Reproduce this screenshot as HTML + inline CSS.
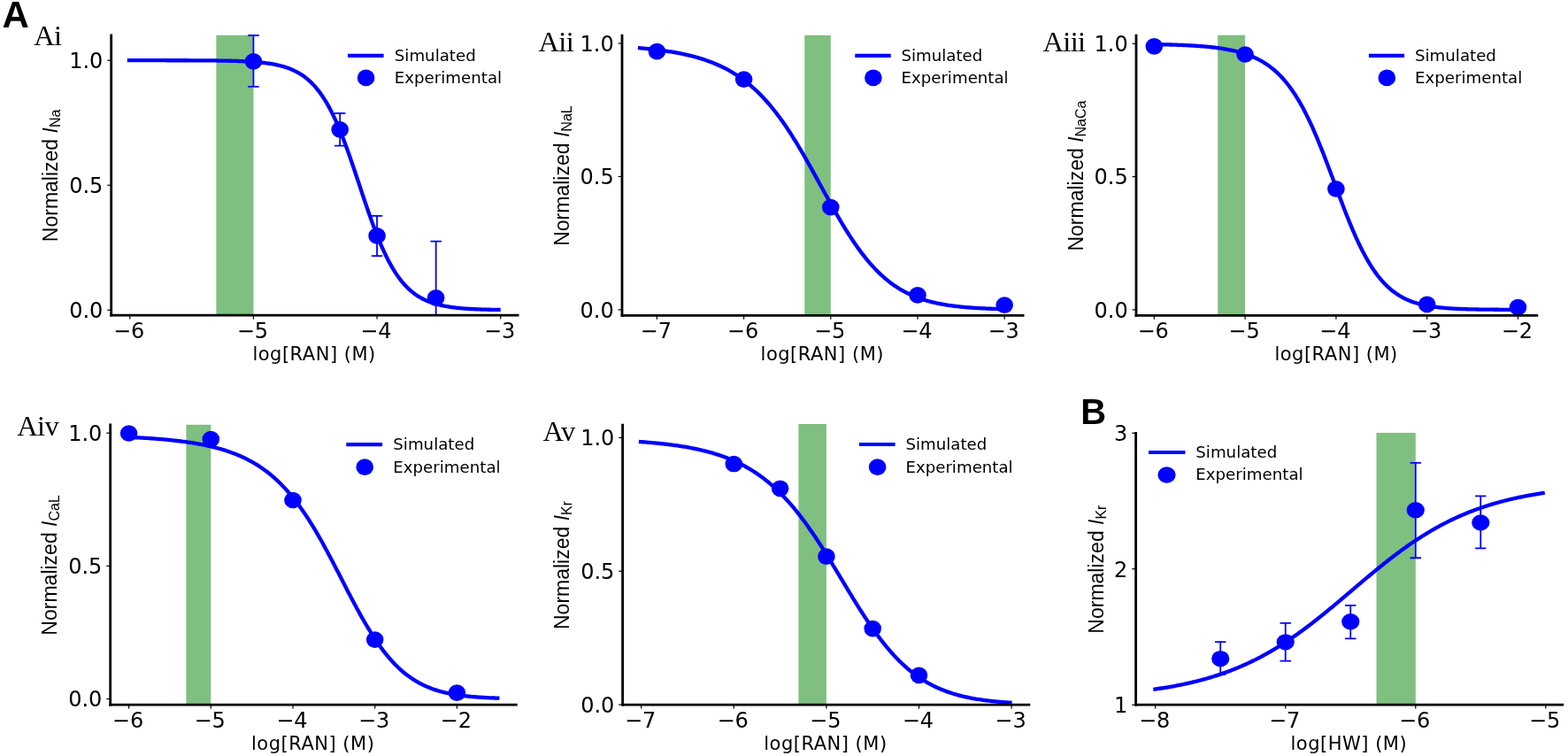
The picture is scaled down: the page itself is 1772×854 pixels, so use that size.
<!DOCTYPE html>
<html><head><meta charset="utf-8"><style>
html,body{margin:0;padding:0;background:#fff;}
svg{display:block;}
.tk{font-family:"DejaVu Sans",sans-serif;font-size:24px;fill:#000;}
.lg{font-family:"DejaVu Sans",sans-serif;font-size:18.2px;fill:#000;}
.xl{font-family:"DejaVu Sans",sans-serif;font-size:21px;fill:#000;letter-spacing:0.5px;}
.yl{font-family:"Liberation Sans",Arial,sans-serif;font-size:23px;fill:#000;}
.pl{font-family:"Liberation Serif","Times New Roman",serif;font-size:32.5px;fill:#000;letter-spacing:-0.6px;}
.big{font-family:"Liberation Sans",Arial,sans-serif;font-weight:bold;font-size:40px;fill:#000;}
</style></head><body>
<svg width="1772" height="854" viewBox="0 0 1772 854">
<rect width="1772" height="854" fill="#fff"/>
<text x="2.4" y="30.7" class="big" style="font-size:42px">A</text>
<text x="1221.2" y="479.1" class="big">B</text>
<clipPath id="clipAi"><rect x="125.70" y="38.60" width="460.80" height="317.60"/></clipPath>
<rect x="244.40" y="39.80" width="42.03" height="316.40" fill="#7fbf7f"/>
<polyline clip-path="url(#clipAi)" points="143.80,68.20 145.20,68.20 146.61,68.20 148.02,68.20 149.42,68.20 150.83,68.21 152.24,68.21 153.64,68.21 155.05,68.21 156.45,68.21 157.86,68.21 159.27,68.21 160.67,68.21 162.08,68.21 163.49,68.21 164.89,68.21 166.30,68.21 167.71,68.21 169.11,68.21 170.52,68.21 171.92,68.21 173.33,68.21 174.74,68.21 176.14,68.22 177.55,68.22 178.96,68.22 180.36,68.22 181.77,68.22 183.17,68.22 184.58,68.22 185.99,68.22 187.39,68.22 188.80,68.23 190.21,68.23 191.61,68.23 193.02,68.23 194.43,68.23 195.83,68.24 197.24,68.24 198.64,68.24 200.05,68.24 201.46,68.24 202.86,68.25 204.27,68.25 205.68,68.25 207.08,68.26 208.49,68.26 209.89,68.26 211.30,68.27 212.71,68.27 214.11,68.28 215.52,68.28 216.93,68.29 218.33,68.29 219.74,68.30 221.14,68.30 222.55,68.31 223.96,68.32 225.36,68.32 226.77,68.33 228.18,68.34 229.58,68.35 230.99,68.36 232.40,68.37 233.80,68.38 235.21,68.39 236.61,68.40 238.02,68.41 239.43,68.43 240.83,68.44 242.24,68.46 243.65,68.47 245.05,68.49 246.46,68.51 247.86,68.53 249.27,68.55 250.68,68.57 252.08,68.59 253.49,68.61 254.90,68.64 256.30,68.67 257.71,68.70 259.12,68.73 260.52,68.76 261.93,68.79 263.33,68.83 264.74,68.87 266.15,68.91 267.55,68.95 268.96,69.00 270.37,69.05 271.77,69.10 273.18,69.16 274.58,69.22 275.99,69.28 277.40,69.35 278.80,69.42 280.21,69.49 281.62,69.57 283.02,69.65 284.43,69.74 285.83,69.84 287.24,69.94 288.65,70.05 290.05,70.16 291.46,70.28 292.87,70.41 294.27,70.54 295.68,70.69 297.09,70.84 298.49,71.00 299.90,71.17 301.30,71.36 302.71,71.55 304.12,71.75 305.52,71.97 306.93,72.20 308.34,72.45 309.74,72.70 311.15,72.98 312.55,73.27 313.96,73.58 315.37,73.90 316.77,74.25 318.18,74.61 319.59,75.00 320.99,75.41 322.40,75.85 323.81,76.31 325.21,76.79 326.62,77.31 328.02,77.85 329.43,78.43 330.84,79.04 332.24,79.68 333.65,80.36 335.06,81.08 336.46,81.84 337.87,82.64 339.27,83.48 340.68,84.37 342.09,85.32 343.49,86.31 344.90,87.35 346.31,88.45 347.71,89.61 349.12,90.83 350.53,92.11 351.93,93.46 353.34,94.88 354.74,96.36 356.15,97.92 357.56,99.56 358.96,101.27 360.37,103.07 361.78,104.94 363.18,106.90 364.59,108.95 365.99,111.09 367.40,113.32 368.81,115.65 370.21,118.07 371.62,120.58 373.03,123.19 374.43,125.90 375.84,128.70 377.24,131.61 378.65,134.61 380.06,137.71 381.46,140.90 382.87,144.19 384.28,147.57 385.68,151.04 387.09,154.60 388.50,158.24 389.90,161.96 391.31,165.76 392.71,169.63 394.12,173.56 395.53,177.55 396.93,181.60 398.34,185.70 399.75,189.83 401.15,194.01 402.56,198.21 403.96,202.42 405.37,206.66 406.78,210.89 408.18,215.12 409.59,219.35 411.00,223.55 412.40,227.73 413.81,231.87 415.22,235.98 416.62,240.04 418.03,244.05 419.43,247.99 420.84,251.88 422.25,255.69 423.65,259.43 425.06,263.09 426.47,266.67 427.87,270.16 429.28,273.56 430.68,276.87 432.09,280.08 433.50,283.20 434.90,286.22 436.31,289.15 437.72,291.98 439.12,294.71 440.53,297.34 441.94,299.88 443.34,302.32 444.75,304.66 446.15,306.91 447.56,309.07 448.97,311.14 450.37,313.12 451.78,315.02 453.19,316.83 454.59,318.56 456.00,320.22 457.40,321.79 458.81,323.30 460.22,324.73 461.62,326.09 463.03,327.39 464.44,328.62 465.84,329.79 467.25,330.91 468.65,331.96 470.06,332.97 471.47,333.92 472.87,334.82 474.28,335.68 475.69,336.49 477.09,337.25 478.50,337.98 479.91,338.67 481.31,339.32 482.72,339.94 484.12,340.52 485.53,341.07 486.94,341.59 488.34,342.09 489.75,342.55 491.16,342.99 492.56,343.41 493.97,343.80 495.37,344.17 496.78,344.52 498.19,344.85 499.59,345.16 501.00,345.46 502.41,345.74 503.81,346.00 505.22,346.24 506.63,346.48 508.03,346.70 509.44,346.91 510.84,347.10 512.25,347.29 513.66,347.46 515.06,347.62 516.47,347.78 517.88,347.92 519.28,348.06 520.69,348.19 522.09,348.31 523.50,348.43 524.91,348.54 526.31,348.64 527.72,348.73 529.13,348.83 530.53,348.91 531.94,348.99 533.34,349.07 534.75,349.14 536.16,349.21 537.56,349.27 538.97,349.33 540.38,349.39 541.78,349.44 543.19,349.49 544.60,349.54 546.00,349.58 547.41,349.62 548.81,349.66 550.22,349.70 551.63,349.73 553.03,349.77 554.44,349.80 555.85,349.83 557.25,349.85 558.66,349.88 560.06,349.91 561.47,349.93 562.88,349.95 564.28,349.97 565.69,349.99" fill="none" stroke="#0000ff" stroke-width="4.3" stroke-linejoin="round" stroke-linecap="butt"/>
<g clip-path="url(#clipAi)" stroke="#0000ff" stroke-width="1.8"><line x1="286.43" y1="97.82" x2="286.43" y2="39.99"/><line x1="280.23" y1="97.82" x2="292.63" y2="97.82"/><line x1="280.23" y1="39.99" x2="292.63" y2="39.99"/></g>
<g clip-path="url(#clipAi)" stroke="#0000ff" stroke-width="1.8"><line x1="384.17" y1="164.68" x2="384.17" y2="128.01"/><line x1="377.97" y1="164.68" x2="390.37" y2="164.68"/><line x1="377.97" y1="128.01" x2="390.37" y2="128.01"/></g>
<g clip-path="url(#clipAi)" stroke="#0000ff" stroke-width="1.8"><line x1="426.06" y1="289.20" x2="426.06" y2="243.95"/><line x1="419.86" y1="289.20" x2="432.26" y2="289.20"/><line x1="419.86" y1="243.95" x2="432.26" y2="243.95"/></g>
<g clip-path="url(#clipAi)" stroke="#0000ff" stroke-width="1.8"><line x1="492.66" y1="406.72" x2="492.66" y2="272.72"/><line x1="486.46" y1="406.72" x2="498.86" y2="406.72"/><line x1="486.46" y1="272.72" x2="498.86" y2="272.72"/></g>
<ellipse cx="286.43" cy="69.33" rx="9.8" ry="9.35" fill="#0000ff"/>
<ellipse cx="384.17" cy="146.34" rx="9.8" ry="9.35" fill="#0000ff"/>
<ellipse cx="426.06" cy="266.40" rx="9.8" ry="9.35" fill="#0000ff"/>
<ellipse cx="492.66" cy="336.39" rx="9.8" ry="9.35" fill="#0000ff"/>
<line x1="125.70" y1="38.60" x2="125.70" y2="357.60" stroke="#000" stroke-width="2.8"/>
<line x1="124.30" y1="356.20" x2="586.50" y2="356.20" stroke="#000" stroke-width="2.8"/>
<line x1="146.80" y1="356.20" x2="146.80" y2="360.60" stroke="#000" stroke-width="1.2"/>
<text x="145.70" y="381.70" class="tk" text-anchor="middle">−6</text>
<line x1="286.43" y1="356.20" x2="286.43" y2="360.60" stroke="#000" stroke-width="1.2"/>
<text x="285.33" y="381.70" class="tk" text-anchor="middle">−5</text>
<line x1="426.06" y1="356.20" x2="426.06" y2="360.60" stroke="#000" stroke-width="1.2"/>
<text x="424.96" y="381.70" class="tk" text-anchor="middle">−4</text>
<line x1="565.69" y1="356.20" x2="565.69" y2="360.60" stroke="#000" stroke-width="1.2"/>
<text x="564.59" y="381.70" class="tk" text-anchor="middle">−3</text>
<line x1="121.30" y1="350.30" x2="125.70" y2="350.30" stroke="#000" stroke-width="1.2"/>
<text x="116.40" y="359.10" class="tk" text-anchor="end">0.0</text>
<line x1="121.30" y1="209.25" x2="125.70" y2="209.25" stroke="#000" stroke-width="1.2"/>
<text x="116.40" y="218.05" class="tk" text-anchor="end">0.5</text>
<line x1="121.30" y1="68.20" x2="125.70" y2="68.20" stroke="#000" stroke-width="1.2"/>
<text x="116.40" y="77.00" class="tk" text-anchor="end">1.0</text>
<line x1="393.00" y1="62.80" x2="433.60" y2="62.80" stroke="#0000ff" stroke-width="4.2"/>
<ellipse cx="413.60" cy="87.90" rx="9.8" ry="9.35" fill="#0000ff"/>
<text x="445.80" y="68.80" class="lg">Simulated</text>
<text x="445.80" y="93.70" class="lg">Experimental</text>
<text x="355.10" y="407.00" class="xl" text-anchor="middle">log[RAN] (M)</text>
<text transform="translate(65.00,198.40) rotate(-90)" class="yl" text-anchor="middle">Normalized <tspan font-style="italic">I</tspan><tspan font-size="16" dy="3.3">Na</tspan></text>
<text x="38.20" y="51.00" class="pl">Ai</text>
<clipPath id="clipAii"><rect x="703.00" y="38.70" width="454.50" height="317.70"/></clipPath>
<rect x="909.24" y="39.80" width="29.56" height="316.60" fill="#7fbf7f"/>
<polyline clip-path="url(#clipAii)" points="720.89,54.11 722.28,54.23 723.66,54.35 725.04,54.47 726.42,54.59 727.80,54.71 729.18,54.84 730.56,54.98 731.94,55.11 733.32,55.25 734.70,55.40 736.09,55.54 737.47,55.69 738.85,55.85 740.23,56.01 741.61,56.17 742.99,56.34 744.37,56.51 745.75,56.68 747.13,56.86 748.51,57.05 749.90,57.24 751.28,57.43 752.66,57.63 754.04,57.84 755.42,58.05 756.80,58.26 758.18,58.48 759.56,58.71 760.94,58.95 762.32,59.19 763.71,59.43 765.09,59.68 766.47,59.94 767.85,60.21 769.23,60.48 770.61,60.76 771.99,61.05 773.37,61.34 774.75,61.65 776.13,61.96 777.52,62.28 778.90,62.61 780.28,62.94 781.66,63.29 783.04,63.64 784.42,64.01 785.80,64.38 787.18,64.76 788.56,65.16 789.95,65.56 791.33,65.98 792.71,66.40 794.09,66.84 795.47,67.29 796.85,67.75 798.23,68.22 799.61,68.71 800.99,69.21 802.37,69.72 803.76,70.24 805.14,70.78 806.52,71.33 807.90,71.90 809.28,72.48 810.66,73.08 812.04,73.69 813.42,74.32 814.80,74.96 816.18,75.63 817.57,76.30 818.95,77.00 820.33,77.71 821.71,78.44 823.09,79.20 824.47,79.96 825.85,80.75 827.23,81.56 828.61,82.39 829.99,83.24 831.38,84.11 832.76,85.00 834.14,85.92 835.52,86.86 836.90,87.82 838.28,88.80 839.66,89.81 841.04,90.84 842.42,91.89 843.80,92.97 845.19,94.08 846.57,95.21 847.95,96.37 849.33,97.55 850.71,98.76 852.09,100.00 853.47,101.26 854.85,102.56 856.23,103.88 857.62,105.23 859.00,106.61 860.38,108.02 861.76,109.46 863.14,110.92 864.52,112.42 865.90,113.95 867.28,115.51 868.66,117.10 870.04,118.72 871.43,120.37 872.81,122.05 874.19,123.76 875.57,125.51 876.95,127.28 878.33,129.09 879.71,130.92 881.09,132.79 882.47,134.69 883.85,136.62 885.24,138.58 886.62,140.56 888.00,142.58 889.38,144.63 890.76,146.70 892.14,148.80 893.52,150.93 894.90,153.09 896.28,155.28 897.66,157.49 899.05,159.72 900.43,161.98 901.81,164.26 903.19,166.57 904.57,168.90 905.95,171.24 907.33,173.61 908.71,176.00 910.09,178.40 911.47,180.82 912.86,183.26 914.24,185.71 915.62,188.17 917.00,190.65 918.38,193.13 919.76,195.63 921.14,198.13 922.52,200.64 923.90,203.15 925.29,205.67 926.67,208.19 928.05,210.71 929.43,213.23 930.81,215.75 932.19,218.26 933.57,220.77 934.95,223.27 936.33,225.77 937.71,228.25 939.10,230.73 940.48,233.19 941.86,235.64 943.24,238.07 944.62,240.49 946.00,242.89 947.38,245.27 948.76,247.63 950.14,249.97 951.52,252.29 952.91,254.58 954.29,256.85 955.67,259.10 957.05,261.31 958.43,263.51 959.81,265.67 961.19,267.80 962.57,269.91 963.95,271.98 965.33,274.02 966.72,276.03 968.10,278.01 969.48,279.96 970.86,281.87 972.24,283.75 973.62,285.60 975.00,287.41 976.38,289.19 977.76,290.93 979.14,292.64 980.53,294.31 981.91,295.95 983.29,297.56 984.67,299.13 986.05,300.66 987.43,302.16 988.81,303.63 990.19,305.06 991.57,306.46 992.96,307.82 994.34,309.15 995.72,310.45 997.10,311.71 998.48,312.95 999.86,314.15 1001.24,315.32 1002.62,316.45 1004.00,317.56 1005.38,318.64 1006.77,319.68 1008.15,320.70 1009.53,321.69 1010.91,322.65 1012.29,323.59 1013.67,324.49 1015.05,325.37 1016.43,326.22 1017.81,327.05 1019.19,327.85 1020.58,328.63 1021.96,329.38 1023.34,330.11 1024.72,330.82 1026.10,331.51 1027.48,332.17 1028.86,332.81 1030.24,333.43 1031.62,334.03 1033.00,334.62 1034.39,335.18 1035.77,335.72 1037.15,336.25 1038.53,336.75 1039.91,337.25 1041.29,337.72 1042.67,338.18 1044.05,338.62 1045.43,339.05 1046.81,339.46 1048.20,339.86 1049.58,340.24 1050.96,340.61 1052.34,340.97 1053.72,341.31 1055.10,341.64 1056.48,341.96 1057.86,342.27 1059.24,342.57 1060.62,342.86 1062.01,343.13 1063.39,343.40 1064.77,343.66 1066.15,343.90 1067.53,344.14 1068.91,344.37 1070.29,344.59 1071.67,344.80 1073.05,345.01 1074.44,345.20 1075.82,345.39 1077.20,345.57 1078.58,345.75 1079.96,345.92 1081.34,346.08 1082.72,346.23 1084.10,346.38 1085.48,346.53 1086.86,346.67 1088.25,346.80 1089.63,346.93 1091.01,347.05 1092.39,347.17 1093.77,347.28 1095.15,347.39 1096.53,347.49 1097.91,347.59 1099.29,347.69 1100.67,347.78 1102.06,347.87 1103.44,347.96 1104.82,348.04 1106.20,348.12 1107.58,348.19 1108.96,348.26 1110.34,348.33 1111.72,348.40 1113.10,348.46 1114.48,348.53 1115.87,348.58 1117.25,348.64 1118.63,348.69 1120.01,348.75 1121.39,348.80 1122.77,348.84 1124.15,348.89 1125.53,348.93 1126.91,348.97 1128.29,349.02 1129.68,349.05 1131.06,349.09 1132.44,349.13 1133.82,349.16 1135.20,349.19" fill="none" stroke="#0000ff" stroke-width="4.3" stroke-linejoin="round" stroke-linecap="butt"/>
<ellipse cx="742.40" cy="58.09" rx="9.8" ry="9.35" fill="#0000ff"/>
<ellipse cx="840.60" cy="89.62" rx="9.8" ry="9.35" fill="#0000ff"/>
<ellipse cx="938.80" cy="234.11" rx="9.8" ry="9.35" fill="#0000ff"/>
<ellipse cx="1037.00" cy="333.41" rx="9.8" ry="9.35" fill="#0000ff"/>
<ellipse cx="1135.20" cy="344.60" rx="9.8" ry="9.35" fill="#0000ff"/>
<line x1="703.00" y1="38.70" x2="703.00" y2="357.80" stroke="#000" stroke-width="2.8"/>
<line x1="701.60" y1="356.40" x2="1157.50" y2="356.40" stroke="#000" stroke-width="2.8"/>
<line x1="742.40" y1="356.40" x2="742.40" y2="360.80" stroke="#000" stroke-width="1.2"/>
<text x="741.30" y="381.90" class="tk" text-anchor="middle">−7</text>
<line x1="840.60" y1="356.40" x2="840.60" y2="360.80" stroke="#000" stroke-width="1.2"/>
<text x="839.50" y="381.90" class="tk" text-anchor="middle">−6</text>
<line x1="938.80" y1="356.40" x2="938.80" y2="360.80" stroke="#000" stroke-width="1.2"/>
<text x="937.70" y="381.90" class="tk" text-anchor="middle">−5</text>
<line x1="1037.00" y1="356.40" x2="1037.00" y2="360.80" stroke="#000" stroke-width="1.2"/>
<text x="1035.90" y="381.90" class="tk" text-anchor="middle">−4</text>
<line x1="1135.20" y1="356.40" x2="1135.20" y2="360.80" stroke="#000" stroke-width="1.2"/>
<text x="1134.10" y="381.90" class="tk" text-anchor="middle">−3</text>
<line x1="698.60" y1="349.90" x2="703.00" y2="349.90" stroke="#000" stroke-width="1.2"/>
<text x="693.70" y="358.70" class="tk" text-anchor="end">0.0</text>
<line x1="698.60" y1="199.45" x2="703.00" y2="199.45" stroke="#000" stroke-width="1.2"/>
<text x="693.70" y="208.25" class="tk" text-anchor="end">0.5</text>
<line x1="698.60" y1="49.00" x2="703.00" y2="49.00" stroke="#000" stroke-width="1.2"/>
<text x="693.70" y="57.80" class="tk" text-anchor="end">1.0</text>
<line x1="966.30" y1="62.90" x2="1006.70" y2="62.90" stroke="#0000ff" stroke-width="4.2"/>
<ellipse cx="986.90" cy="87.90" rx="9.8" ry="9.35" fill="#0000ff"/>
<text x="1018.40" y="68.90" class="lg">Simulated</text>
<text x="1018.40" y="93.70" class="lg">Experimental</text>
<text x="929.25" y="407.20" class="xl" text-anchor="middle">log[RAN] (M)</text>
<text transform="translate(643.10,198.55) rotate(-90)" class="yl" text-anchor="middle">Normalized <tspan font-style="italic">I</tspan><tspan font-size="16" dy="3.3">NaL</tspan></text>
<text x="608.40" y="58.40" class="pl">Aii</text>
<clipPath id="clipAiii"><rect x="1284.00" y="38.70" width="454.20" height="317.70"/></clipPath>
<rect x="1376.16" y="39.70" width="30.94" height="316.70" fill="#7fbf7f"/>
<polyline clip-path="url(#clipAiii)" points="1304.30,50.07 1305.67,50.09 1307.04,50.12 1308.41,50.15 1309.78,50.17 1311.15,50.20 1312.52,50.23 1313.89,50.27 1315.27,50.30 1316.64,50.33 1318.01,50.37 1319.38,50.40 1320.75,50.44 1322.12,50.48 1323.49,50.52 1324.86,50.56 1326.23,50.61 1327.60,50.65 1328.97,50.70 1330.34,50.75 1331.71,50.80 1333.08,50.85 1334.45,50.91 1335.83,50.96 1337.20,51.02 1338.57,51.08 1339.94,51.15 1341.31,51.21 1342.68,51.28 1344.05,51.35 1345.42,51.43 1346.79,51.51 1348.16,51.59 1349.53,51.67 1350.90,51.76 1352.27,51.85 1353.64,51.94 1355.01,52.04 1356.39,52.14 1357.76,52.25 1359.13,52.35 1360.50,52.47 1361.87,52.59 1363.24,52.71 1364.61,52.84 1365.98,52.97 1367.35,53.11 1368.72,53.26 1370.09,53.41 1371.46,53.56 1372.83,53.73 1374.20,53.89 1375.57,54.07 1376.95,54.25 1378.32,54.45 1379.69,54.64 1381.06,54.85 1382.43,55.07 1383.80,55.29 1385.17,55.52 1386.54,55.77 1387.91,56.02 1389.28,56.28 1390.65,56.56 1392.02,56.84 1393.39,57.14 1394.76,57.45 1396.13,57.77 1397.51,58.11 1398.88,58.46 1400.25,58.82 1401.62,59.20 1402.99,59.60 1404.36,60.01 1405.73,60.44 1407.10,60.88 1408.47,61.35 1409.84,61.83 1411.21,62.33 1412.58,62.86 1413.95,63.40 1415.32,63.97 1416.69,64.56 1418.07,65.18 1419.44,65.82 1420.81,66.49 1422.18,67.18 1423.55,67.90 1424.92,68.65 1426.29,69.44 1427.66,70.25 1429.03,71.09 1430.40,71.97 1431.77,72.89 1433.14,73.84 1434.51,74.82 1435.88,75.85 1437.25,76.92 1438.63,78.02 1440.00,79.17 1441.37,80.36 1442.74,81.60 1444.11,82.89 1445.48,84.22 1446.85,85.60 1448.22,87.04 1449.59,88.52 1450.96,90.06 1452.33,91.65 1453.70,93.30 1455.07,95.01 1456.44,96.77 1457.81,98.59 1459.19,100.48 1460.56,102.42 1461.93,104.43 1463.30,106.50 1464.67,108.64 1466.04,110.84 1467.41,113.11 1468.78,115.44 1470.15,117.84 1471.52,120.31 1472.89,122.84 1474.26,125.44 1475.63,128.11 1477.00,130.84 1478.37,133.64 1479.75,136.50 1481.12,139.42 1482.49,142.41 1483.86,145.46 1485.23,148.57 1486.60,151.74 1487.97,154.96 1489.34,158.24 1490.71,161.57 1492.08,164.94 1493.45,168.36 1494.82,171.82 1496.19,175.33 1497.56,178.86 1498.93,182.43 1500.31,186.03 1501.68,189.65 1503.05,193.29 1504.42,196.95 1505.79,200.62 1507.16,204.29 1508.53,207.97 1509.90,211.65 1511.27,215.32 1512.64,218.98 1514.01,222.62 1515.38,226.25 1516.75,229.85 1518.12,233.42 1519.49,236.97 1520.87,240.47 1522.24,243.94 1523.61,247.36 1524.98,250.74 1526.35,254.06 1527.72,257.33 1529.09,260.55 1530.46,263.71 1531.83,266.81 1533.20,269.84 1534.57,272.81 1535.94,275.71 1537.31,278.54 1538.68,281.31 1540.05,284.00 1541.43,286.62 1542.80,289.17 1544.17,291.65 1545.54,294.06 1546.91,296.39 1548.28,298.65 1549.65,300.84 1551.02,302.96 1552.39,305.00 1553.76,306.98 1555.13,308.88 1556.50,310.72 1557.87,312.50 1559.24,314.20 1560.61,315.84 1561.99,317.42 1563.36,318.94 1564.73,320.40 1566.10,321.80 1567.47,323.14 1568.84,324.43 1570.21,325.66 1571.58,326.84 1572.95,327.97 1574.32,329.05 1575.69,330.08 1577.06,331.07 1578.43,332.01 1579.80,332.91 1581.17,333.77 1582.55,334.59 1583.92,335.37 1585.29,336.12 1586.66,336.83 1588.03,337.50 1589.40,338.15 1590.77,338.76 1592.14,339.35 1593.51,339.90 1594.88,340.43 1596.25,340.93 1597.62,341.41 1598.99,341.86 1600.36,342.29 1601.73,342.70 1603.11,343.09 1604.48,343.46 1605.85,343.81 1607.22,344.14 1608.59,344.45 1609.96,344.75 1611.33,345.03 1612.70,345.30 1614.07,345.55 1615.44,345.79 1616.81,346.02 1618.18,346.24 1619.55,346.44 1620.92,346.64 1622.29,346.82 1623.67,346.99 1625.04,347.16 1626.41,347.31 1627.78,347.46 1629.15,347.60 1630.52,347.73 1631.89,347.85 1633.26,347.97 1634.63,348.08 1636.00,348.18 1637.37,348.28 1638.74,348.37 1640.11,348.46 1641.48,348.55 1642.85,348.62 1644.23,348.70 1645.60,348.77 1646.97,348.83 1648.34,348.90 1649.71,348.95 1651.08,349.01 1652.45,349.06 1653.82,349.11 1655.19,349.16 1656.56,349.20 1657.93,349.24 1659.30,349.28 1660.67,349.32 1662.04,349.35 1663.41,349.39 1664.79,349.42 1666.16,349.45 1667.53,349.47 1668.90,349.50 1670.27,349.52 1671.64,349.55 1673.01,349.57 1674.38,349.59 1675.75,349.61 1677.12,349.62 1678.49,349.64 1679.86,349.66 1681.23,349.67 1682.60,349.69 1683.97,349.70 1685.35,349.71 1686.72,349.72 1688.09,349.73 1689.46,349.74 1690.83,349.75 1692.20,349.76 1693.57,349.77 1694.94,349.78 1696.31,349.79 1697.68,349.79 1699.05,349.80 1700.42,349.81 1701.79,349.81 1703.16,349.82 1704.53,349.82 1705.91,349.83 1707.28,349.83 1708.65,349.84 1710.02,349.84 1711.39,349.84 1712.76,349.85 1714.13,349.85 1715.50,349.85" fill="none" stroke="#0000ff" stroke-width="4.3" stroke-linejoin="round" stroke-linecap="butt"/>
<ellipse cx="1304.30" cy="52.31" rx="9.8" ry="9.35" fill="#0000ff"/>
<ellipse cx="1407.10" cy="61.50" rx="9.8" ry="9.35" fill="#0000ff"/>
<ellipse cx="1509.90" cy="213.43" rx="9.8" ry="9.35" fill="#0000ff"/>
<ellipse cx="1612.70" cy="343.89" rx="9.8" ry="9.35" fill="#0000ff"/>
<ellipse cx="1715.50" cy="347.10" rx="9.8" ry="9.35" fill="#0000ff"/>
<line x1="1284.00" y1="38.70" x2="1284.00" y2="357.80" stroke="#000" stroke-width="2.8"/>
<line x1="1282.60" y1="356.40" x2="1738.20" y2="356.40" stroke="#000" stroke-width="2.8"/>
<line x1="1304.30" y1="356.40" x2="1304.30" y2="360.80" stroke="#000" stroke-width="1.2"/>
<text x="1303.20" y="381.90" class="tk" text-anchor="middle">−6</text>
<line x1="1407.10" y1="356.40" x2="1407.10" y2="360.80" stroke="#000" stroke-width="1.2"/>
<text x="1406.00" y="381.90" class="tk" text-anchor="middle">−5</text>
<line x1="1509.90" y1="356.40" x2="1509.90" y2="360.80" stroke="#000" stroke-width="1.2"/>
<text x="1508.80" y="381.90" class="tk" text-anchor="middle">−4</text>
<line x1="1612.70" y1="356.40" x2="1612.70" y2="360.80" stroke="#000" stroke-width="1.2"/>
<text x="1611.60" y="381.90" class="tk" text-anchor="middle">−3</text>
<line x1="1715.50" y1="356.40" x2="1715.50" y2="360.80" stroke="#000" stroke-width="1.2"/>
<text x="1714.40" y="381.90" class="tk" text-anchor="middle">−2</text>
<line x1="1279.60" y1="349.90" x2="1284.00" y2="349.90" stroke="#000" stroke-width="1.2"/>
<text x="1274.70" y="358.70" class="tk" text-anchor="end">0.0</text>
<line x1="1279.60" y1="199.60" x2="1284.00" y2="199.60" stroke="#000" stroke-width="1.2"/>
<text x="1274.70" y="208.40" class="tk" text-anchor="end">0.5</text>
<line x1="1279.60" y1="49.30" x2="1284.00" y2="49.30" stroke="#000" stroke-width="1.2"/>
<text x="1274.70" y="58.10" class="tk" text-anchor="end">1.0</text>
<line x1="1546.90" y1="62.90" x2="1587.10" y2="62.90" stroke="#0000ff" stroke-width="4.2"/>
<ellipse cx="1567.30" cy="87.90" rx="9.8" ry="9.35" fill="#0000ff"/>
<text x="1599.00" y="68.90" class="lg">Simulated</text>
<text x="1599.00" y="93.70" class="lg">Experimental</text>
<text x="1510.10" y="407.20" class="xl" text-anchor="middle">log[RAN] (M)</text>
<text transform="translate(1224.10,198.55) rotate(-90)" class="yl" text-anchor="middle">Normalized <tspan font-style="italic">I</tspan><tspan font-size="16" dy="3.3">NaCa</tspan></text>
<text x="1178.40" y="58.40" class="pl">Aiii</text>
<clipPath id="clipAiv"><rect x="124.70" y="478.60" width="460.00" height="317.60"/></clipPath>
<rect x="210.40" y="479.80" width="27.90" height="316.40" fill="#7fbf7f"/>
<polyline clip-path="url(#clipAiv)" points="143.75,493.76 145.15,493.82 146.55,493.89 147.95,493.95 149.35,494.02 150.76,494.09 152.16,494.16 153.56,494.23 154.96,494.31 156.37,494.38 157.77,494.46 159.17,494.54 160.57,494.62 161.98,494.71 163.38,494.79 164.78,494.88 166.18,494.97 167.58,495.06 168.99,495.15 170.39,495.25 171.79,495.35 173.19,495.45 174.60,495.55 176.00,495.66 177.40,495.77 178.80,495.88 180.20,495.99 181.61,496.11 183.01,496.23 184.41,496.35 185.81,496.48 187.22,496.60 188.62,496.73 190.02,496.87 191.42,497.01 192.82,497.15 194.23,497.29 195.63,497.44 197.03,497.60 198.43,497.75 199.84,497.91 201.24,498.08 202.64,498.24 204.04,498.42 205.44,498.59 206.85,498.78 208.25,498.96 209.65,499.15 211.05,499.35 212.46,499.55 213.86,499.76 215.26,499.97 216.66,500.18 218.06,500.41 219.47,500.64 220.87,500.87 222.27,501.11 223.67,501.36 225.08,501.61 226.48,501.87 227.88,502.14 229.28,502.41 230.69,502.69 232.09,502.98 233.49,503.27 234.89,503.58 236.29,503.89 237.70,504.21 239.10,504.54 240.50,504.88 241.90,505.22 243.31,505.58 244.71,505.94 246.11,506.32 247.51,506.70 248.91,507.10 250.32,507.50 251.72,507.92 253.12,508.35 254.52,508.79 255.93,509.24 257.33,509.70 258.73,510.18 260.13,510.67 261.53,511.17 262.94,511.68 264.34,512.21 265.74,512.76 267.14,513.31 268.55,513.89 269.95,514.48 271.35,515.08 272.75,515.70 274.15,516.34 275.56,516.99 276.96,517.67 278.36,518.36 279.76,519.07 281.17,519.79 282.57,520.54 283.97,521.31 285.37,522.09 286.77,522.90 288.18,523.73 289.58,524.58 290.98,525.45 292.38,526.35 293.79,527.27 295.19,528.21 296.59,529.18 297.99,530.17 299.39,531.19 300.80,532.24 302.20,533.31 303.60,534.40 305.00,535.53 306.41,536.68 307.81,537.86 309.21,539.07 310.61,540.31 312.02,541.58 313.42,542.89 314.82,544.22 316.22,545.58 317.62,546.98 319.03,548.40 320.43,549.87 321.83,551.36 323.23,552.89 324.64,554.45 326.04,556.05 327.44,557.68 328.84,559.34 330.24,561.04 331.65,562.78 333.05,564.55 334.45,566.36 335.85,568.20 337.26,570.08 338.66,572.00 340.06,573.95 341.46,575.93 342.86,577.96 344.27,580.01 345.67,582.11 347.07,584.24 348.47,586.40 349.88,588.59 351.28,590.83 352.68,593.09 354.08,595.38 355.48,597.71 356.89,600.07 358.29,602.46 359.69,604.88 361.09,607.33 362.50,609.80 363.90,612.30 365.30,614.83 366.70,617.38 368.10,619.95 369.51,622.55 370.91,625.16 372.31,627.80 373.71,630.45 375.12,633.11 376.52,635.79 377.92,638.48 379.32,641.18 380.72,643.89 382.13,646.61 383.53,649.34 384.93,652.06 386.33,654.79 387.74,657.52 389.14,660.24 390.54,662.96 391.94,665.68 393.35,668.38 394.75,671.08 396.15,673.76 397.55,676.43 398.95,679.09 400.36,681.72 401.76,684.34 403.16,686.94 404.56,689.52 405.97,692.07 407.37,694.59 408.77,697.09 410.17,699.56 411.57,702.00 412.98,704.41 414.38,706.78 415.78,709.12 417.18,711.43 418.59,713.70 419.99,715.94 421.39,718.13 422.79,720.29 424.19,722.41 425.60,724.49 427.00,726.53 428.40,728.52 429.80,730.48 431.21,732.39 432.61,734.27 434.01,736.10 435.41,737.88 436.81,739.63 438.22,741.33 439.62,742.99 441.02,744.61 442.42,746.19 443.83,747.73 445.23,749.22 446.63,750.67 448.03,752.09 449.43,753.46 450.84,754.79 452.24,756.09 453.64,757.34 455.04,758.56 456.45,759.74 457.85,760.88 459.25,761.99 460.65,763.06 462.05,764.10 463.46,765.10 464.86,766.07 466.26,767.01 467.66,767.91 469.07,768.78 470.47,769.63 471.87,770.44 473.27,771.23 474.68,771.98 476.08,772.71 477.48,773.41 478.88,774.09 480.28,774.74 481.69,775.37 483.09,775.97 484.49,776.55 485.89,777.11 487.30,777.65 488.70,778.16 490.10,778.66 491.50,779.14 492.90,779.59 494.31,780.03 495.71,780.45 497.11,780.86 498.51,781.24 499.92,781.62 501.32,781.97 502.72,782.31 504.12,782.64 505.52,782.95 506.93,783.26 508.33,783.54 509.73,783.82 511.13,784.08 512.54,784.33 513.94,784.58 515.34,784.81 516.74,785.03 518.14,785.24 519.55,785.44 520.95,785.63 522.35,785.82 523.75,785.99 525.16,786.16 526.56,786.32 527.96,786.48 529.36,786.62 530.76,786.76 532.17,786.89 533.57,787.02 534.97,787.14 536.37,787.26 537.78,787.37 539.18,787.47 540.58,787.58 541.98,787.67 543.38,787.76 544.79,787.85 546.19,787.93 547.59,788.01 548.99,788.09 550.40,788.16 551.80,788.22 553.20,788.29 554.60,788.35 556.01,788.41 557.41,788.47 558.81,788.52 560.21,788.57 561.61,788.62 563.02,788.66 564.42,788.71" fill="none" stroke="#0000ff" stroke-width="4.3" stroke-linejoin="round" stroke-linecap="butt"/>
<ellipse cx="145.60" cy="489.50" rx="9.8" ry="9.35" fill="#0000ff"/>
<ellipse cx="238.30" cy="496.11" rx="9.8" ry="9.35" fill="#0000ff"/>
<ellipse cx="331.00" cy="565.00" rx="9.8" ry="9.35" fill="#0000ff"/>
<ellipse cx="423.70" cy="722.59" rx="9.8" ry="9.35" fill="#0000ff"/>
<ellipse cx="516.40" cy="782.59" rx="9.8" ry="9.35" fill="#0000ff"/>
<line x1="124.70" y1="478.60" x2="124.70" y2="797.60" stroke="#000" stroke-width="2.8"/>
<line x1="123.30" y1="796.20" x2="584.70" y2="796.20" stroke="#000" stroke-width="2.8"/>
<line x1="145.60" y1="796.20" x2="145.60" y2="800.60" stroke="#000" stroke-width="1.2"/>
<text x="144.50" y="821.70" class="tk" text-anchor="middle">−6</text>
<line x1="238.30" y1="796.20" x2="238.30" y2="800.60" stroke="#000" stroke-width="1.2"/>
<text x="237.20" y="821.70" class="tk" text-anchor="middle">−5</text>
<line x1="331.00" y1="796.20" x2="331.00" y2="800.60" stroke="#000" stroke-width="1.2"/>
<text x="329.90" y="821.70" class="tk" text-anchor="middle">−4</text>
<line x1="423.70" y1="796.20" x2="423.70" y2="800.60" stroke="#000" stroke-width="1.2"/>
<text x="422.60" y="821.70" class="tk" text-anchor="middle">−3</text>
<line x1="516.40" y1="796.20" x2="516.40" y2="800.60" stroke="#000" stroke-width="1.2"/>
<text x="515.30" y="821.70" class="tk" text-anchor="middle">−2</text>
<line x1="120.30" y1="789.50" x2="124.70" y2="789.50" stroke="#000" stroke-width="1.2"/>
<text x="115.40" y="798.30" class="tk" text-anchor="end">0.0</text>
<line x1="120.30" y1="639.35" x2="124.70" y2="639.35" stroke="#000" stroke-width="1.2"/>
<text x="115.40" y="648.15" class="tk" text-anchor="end">0.5</text>
<line x1="120.30" y1="489.20" x2="124.70" y2="489.20" stroke="#000" stroke-width="1.2"/>
<text x="115.40" y="498.00" class="tk" text-anchor="end">1.0</text>
<line x1="391.30" y1="502.20" x2="432.10" y2="502.20" stroke="#0000ff" stroke-width="4.2"/>
<ellipse cx="412.20" cy="527.70" rx="9.8" ry="9.35" fill="#0000ff"/>
<text x="444.30" y="508.20" class="lg">Simulated</text>
<text x="444.30" y="533.50" class="lg">Experimental</text>
<text x="353.70" y="847.00" class="xl" text-anchor="middle">log[RAN] (M)</text>
<text transform="translate(63.50,638.40) rotate(-90)" class="yl" text-anchor="middle">Normalized <tspan font-style="italic">I</tspan><tspan font-size="16" dy="3.3">CaL</tspan></text>
<text x="19.20" y="492.00" class="pl">Aiv</text>
<clipPath id="clipAv"><rect x="703.60" y="478.70" width="460.70" height="317.50"/></clipPath>
<rect x="902.42" y="479.00" width="31.48" height="317.20" fill="#7fbf7f"/>
<polyline clip-path="url(#clipAv)" points="721.88,498.95 723.28,499.05 724.69,499.15 726.09,499.25 727.50,499.36 728.90,499.47 730.31,499.58 731.72,499.69 733.12,499.81 734.53,499.93 735.93,500.05 737.34,500.17 738.75,500.30 740.15,500.43 741.56,500.56 742.96,500.70 744.37,500.84 745.77,500.99 747.18,501.13 748.59,501.28 749.99,501.44 751.40,501.60 752.80,501.76 754.21,501.93 755.62,502.10 757.02,502.27 758.43,502.45 759.83,502.64 761.24,502.82 762.64,503.02 764.05,503.22 765.46,503.42 766.86,503.63 768.27,503.84 769.67,504.06 771.08,504.28 772.49,504.51 773.89,504.74 775.30,504.98 776.70,505.23 778.11,505.48 779.51,505.74 780.92,506.01 782.33,506.28 783.73,506.56 785.14,506.85 786.54,507.14 787.95,507.44 789.36,507.75 790.76,508.06 792.17,508.39 793.57,508.72 794.98,509.06 796.38,509.40 797.79,509.76 799.20,510.13 800.60,510.50 802.01,510.89 803.41,511.28 804.82,511.68 806.23,512.10 807.63,512.52 809.04,512.96 810.44,513.40 811.85,513.86 813.25,514.32 814.66,514.80 816.07,515.29 817.47,515.80 818.88,516.31 820.28,516.84 821.69,517.38 823.10,517.93 824.50,518.50 825.91,519.08 827.31,519.68 828.72,520.29 830.12,520.91 831.53,521.55 832.94,522.20 834.34,522.87 835.75,523.56 837.15,524.26 838.56,524.98 839.97,525.72 841.37,526.47 842.78,527.24 844.18,528.03 845.59,528.84 846.99,529.66 848.40,530.51 849.81,531.37 851.21,532.26 852.62,533.16 854.02,534.08 855.43,535.03 856.83,535.99 858.24,536.98 859.65,537.99 861.05,539.02 862.46,540.07 863.86,541.15 865.27,542.25 866.68,543.37 868.08,544.51 869.49,545.68 870.89,546.87 872.30,548.09 873.70,549.33 875.11,550.60 876.52,551.89 877.92,553.21 879.33,554.55 880.73,555.92 882.14,557.32 883.55,558.74 884.95,560.19 886.36,561.66 887.76,563.16 889.17,564.68 890.57,566.24 891.98,567.82 893.39,569.42 894.79,571.06 896.20,572.72 897.60,574.40 899.01,576.12 900.42,577.85 901.82,579.62 903.23,581.41 904.63,583.23 906.04,585.07 907.44,586.94 908.85,588.83 910.26,590.75 911.66,592.69 913.07,594.66 914.47,596.65 915.88,598.66 917.29,600.70 918.69,602.75 920.10,604.83 921.50,606.93 922.91,609.05 924.31,611.19 925.72,613.34 927.13,615.52 928.53,617.71 929.94,619.92 931.34,622.15 932.75,624.38 934.16,626.64 935.56,628.90 936.97,631.18 938.37,633.47 939.78,635.77 941.18,638.07 942.59,640.39 944.00,642.71 945.40,645.03 946.81,647.37 948.21,649.70 949.62,652.04 951.03,654.37 952.43,656.71 953.84,659.05 955.24,661.38 956.65,663.71 958.05,666.04 959.46,668.36 960.87,670.67 962.27,672.98 963.68,675.27 965.08,677.56 966.49,679.83 967.89,682.10 969.30,684.34 970.71,686.58 972.11,688.80 973.52,691.00 974.92,693.18 976.33,695.35 977.74,697.50 979.14,699.63 980.55,701.73 981.95,703.82 983.36,705.88 984.76,707.92 986.17,709.94 987.58,711.93 988.98,713.89 990.39,715.83 991.79,717.75 993.20,719.64 994.61,721.50 996.01,723.33 997.42,725.13 998.82,726.91 1000.23,728.66 1001.63,730.38 1003.04,732.07 1004.45,733.73 1005.85,735.36 1007.26,736.97 1008.66,738.54 1010.07,740.08 1011.48,741.60 1012.88,743.08 1014.29,744.54 1015.69,745.96 1017.10,747.36 1018.50,748.73 1019.91,750.06 1021.32,751.37 1022.72,752.65 1024.13,753.90 1025.53,755.12 1026.94,756.32 1028.35,757.49 1029.75,758.63 1031.16,759.74 1032.56,760.82 1033.97,761.88 1035.37,762.91 1036.78,763.92 1038.19,764.90 1039.59,765.86 1041.00,766.79 1042.40,767.70 1043.81,768.58 1045.22,769.44 1046.62,770.28 1048.03,771.09 1049.43,771.88 1050.84,772.65 1052.24,773.40 1053.65,774.13 1055.06,774.84 1056.46,775.52 1057.87,776.19 1059.27,776.84 1060.68,777.47 1062.09,778.08 1063.49,778.67 1064.90,779.25 1066.30,779.81 1067.71,780.35 1069.11,780.87 1070.52,781.38 1071.93,781.88 1073.33,782.36 1074.74,782.82 1076.14,783.27 1077.55,783.70 1078.96,784.13 1080.36,784.54 1081.77,784.93 1083.17,785.31 1084.58,785.69 1085.98,786.04 1087.39,786.39 1088.80,786.73 1090.20,787.05 1091.61,787.37 1093.01,787.67 1094.42,787.97 1095.82,788.25 1097.23,788.53 1098.64,788.79 1100.04,789.05 1101.45,789.30 1102.85,789.54 1104.26,789.77 1105.67,790.00 1107.07,790.22 1108.48,790.42 1109.88,790.63 1111.29,790.82 1112.69,791.01 1114.10,791.19 1115.51,791.37 1116.91,791.54 1118.32,791.70 1119.72,791.86 1121.13,792.01 1122.54,792.16 1123.94,792.30 1125.35,792.44 1126.75,792.57 1128.16,792.70 1129.56,792.82 1130.97,792.94 1132.38,793.06 1133.78,793.17 1135.19,793.28 1136.59,793.38 1138.00,793.48 1139.41,793.57 1140.81,793.66 1142.22,793.75 1143.62,793.84" fill="none" stroke="#0000ff" stroke-width="4.3" stroke-linejoin="round" stroke-linecap="butt"/>
<ellipse cx="829.30" cy="524.02" rx="9.8" ry="9.35" fill="#0000ff"/>
<ellipse cx="881.60" cy="551.82" rx="9.8" ry="9.35" fill="#0000ff"/>
<ellipse cx="933.90" cy="628.64" rx="9.8" ry="9.35" fill="#0000ff"/>
<ellipse cx="986.20" cy="710.07" rx="9.8" ry="9.35" fill="#0000ff"/>
<ellipse cx="1038.50" cy="762.79" rx="9.8" ry="9.35" fill="#0000ff"/>
<line x1="703.60" y1="478.70" x2="703.60" y2="797.60" stroke="#000" stroke-width="2.8"/>
<line x1="702.20" y1="796.20" x2="1164.30" y2="796.20" stroke="#000" stroke-width="2.8"/>
<line x1="724.70" y1="796.20" x2="724.70" y2="800.60" stroke="#000" stroke-width="1.2"/>
<text x="723.60" y="821.70" class="tk" text-anchor="middle">−7</text>
<line x1="829.30" y1="796.20" x2="829.30" y2="800.60" stroke="#000" stroke-width="1.2"/>
<text x="828.20" y="821.70" class="tk" text-anchor="middle">−6</text>
<line x1="933.90" y1="796.20" x2="933.90" y2="800.60" stroke="#000" stroke-width="1.2"/>
<text x="932.80" y="821.70" class="tk" text-anchor="middle">−5</text>
<line x1="1038.50" y1="796.20" x2="1038.50" y2="800.60" stroke="#000" stroke-width="1.2"/>
<text x="1037.40" y="821.70" class="tk" text-anchor="middle">−4</text>
<line x1="1143.10" y1="796.20" x2="1143.10" y2="800.60" stroke="#000" stroke-width="1.2"/>
<text x="1142.00" y="821.70" class="tk" text-anchor="middle">−3</text>
<line x1="699.20" y1="796.00" x2="703.60" y2="796.00" stroke="#000" stroke-width="1.2"/>
<text x="694.30" y="804.80" class="tk" text-anchor="end">0.0</text>
<line x1="699.20" y1="645.20" x2="703.60" y2="645.20" stroke="#000" stroke-width="1.2"/>
<text x="694.30" y="654.00" class="tk" text-anchor="end">0.5</text>
<line x1="699.20" y1="494.40" x2="703.60" y2="494.40" stroke="#000" stroke-width="1.2"/>
<text x="694.30" y="503.20" class="tk" text-anchor="end">1.0</text>
<line x1="970.90" y1="502.00" x2="1011.60" y2="502.00" stroke="#0000ff" stroke-width="4.2"/>
<ellipse cx="991.60" cy="527.70" rx="9.8" ry="9.35" fill="#0000ff"/>
<text x="1023.40" y="508.00" class="lg">Simulated</text>
<text x="1023.40" y="533.50" class="lg">Experimental</text>
<text x="932.95" y="847.00" class="xl" text-anchor="middle">log[RAN] (M)</text>
<text transform="translate(642.70,638.45) rotate(-90)" class="yl" text-anchor="middle">Normalized <tspan font-style="italic">I</tspan><tspan font-size="16" dy="3.3">Kr</tspan></text>
<text x="613.60" y="497.50" class="pl">Av</text>
<clipPath id="clipB"><rect x="1283.60" y="488.00" width="483.50" height="308.20"/></clipPath>
<rect x="1555.50" y="488.90" width="44.26" height="307.30" fill="#7fbf7f"/>
<polyline clip-path="url(#clipB)" points="1303.35,778.78 1304.82,778.58 1306.30,778.37 1307.77,778.16 1309.25,777.94 1310.72,777.72 1312.20,777.50 1313.67,777.27 1315.15,777.04 1316.62,776.80 1318.09,776.56 1319.57,776.32 1321.04,776.07 1322.52,775.81 1323.99,775.55 1325.47,775.29 1326.94,775.02 1328.42,774.74 1329.89,774.46 1331.37,774.18 1332.84,773.89 1334.32,773.60 1335.79,773.30 1337.27,772.99 1338.74,772.68 1340.22,772.36 1341.69,772.04 1343.16,771.71 1344.64,771.38 1346.11,771.04 1347.59,770.69 1349.06,770.34 1350.54,769.98 1352.01,769.62 1353.49,769.25 1354.96,768.87 1356.44,768.49 1357.91,768.10 1359.39,767.70 1360.86,767.29 1362.34,766.88 1363.81,766.47 1365.29,766.04 1366.76,765.61 1368.23,765.17 1369.71,764.72 1371.18,764.27 1372.66,763.81 1374.13,763.34 1375.61,762.86 1377.08,762.38 1378.56,761.89 1380.03,761.38 1381.51,760.88 1382.98,760.36 1384.46,759.84 1385.93,759.30 1387.41,758.76 1388.88,758.21 1390.36,757.65 1391.83,757.09 1393.30,756.51 1394.78,755.93 1396.25,755.33 1397.73,754.73 1399.20,754.12 1400.68,753.50 1402.15,752.87 1403.63,752.24 1405.10,751.59 1406.58,750.93 1408.05,750.27 1409.53,749.59 1411.00,748.91 1412.48,748.21 1413.95,747.51 1415.43,746.79 1416.90,746.07 1418.37,745.34 1419.85,744.59 1421.32,743.84 1422.80,743.08 1424.27,742.31 1425.75,741.53 1427.22,740.74 1428.70,739.93 1430.17,739.12 1431.65,738.30 1433.12,737.47 1434.60,736.63 1436.07,735.78 1437.55,734.92 1439.02,734.05 1440.50,733.16 1441.97,732.27 1443.45,731.37 1444.92,730.46 1446.39,729.54 1447.87,728.61 1449.34,727.67 1450.82,726.72 1452.29,725.77 1453.77,724.80 1455.24,723.82 1456.72,722.83 1458.19,721.84 1459.67,720.83 1461.14,719.82 1462.62,718.79 1464.09,717.76 1465.57,716.72 1467.04,715.67 1468.52,714.61 1469.99,713.54 1471.46,712.47 1472.94,711.38 1474.41,710.29 1475.89,709.19 1477.36,708.08 1478.84,706.97 1480.31,705.84 1481.79,704.71 1483.26,703.58 1484.74,702.43 1486.21,701.28 1487.69,700.12 1489.16,698.96 1490.64,697.79 1492.11,696.61 1493.59,695.43 1495.06,694.24 1496.53,693.05 1498.01,691.85 1499.48,690.65 1500.96,689.44 1502.43,688.22 1503.91,687.01 1505.38,685.79 1506.86,684.56 1508.33,683.33 1509.81,682.10 1511.28,680.86 1512.76,679.63 1514.23,678.39 1515.71,677.14 1517.18,675.90 1518.66,674.65 1520.13,673.40 1521.60,672.15 1523.08,670.90 1524.55,669.65 1526.03,668.40 1527.50,667.15 1528.98,665.90 1530.45,664.65 1531.93,663.40 1533.40,662.15 1534.88,660.90 1536.35,659.65 1537.83,658.40 1539.30,657.16 1540.78,655.92 1542.25,654.68 1543.73,653.44 1545.20,652.21 1546.67,650.98 1548.15,649.75 1549.62,648.52 1551.10,647.30 1552.57,646.09 1554.05,644.88 1555.52,643.67 1557.00,642.47 1558.47,641.27 1559.95,640.08 1561.42,638.89 1562.90,637.71 1564.37,636.54 1565.85,635.37 1567.32,634.21 1568.80,633.05 1570.27,631.90 1571.74,630.76 1573.22,629.63 1574.69,628.50 1576.17,627.38 1577.64,626.27 1579.12,625.16 1580.59,624.06 1582.07,622.98 1583.54,621.89 1585.02,620.82 1586.49,619.76 1587.97,618.70 1589.44,617.65 1590.92,616.62 1592.39,615.59 1593.87,614.57 1595.34,613.55 1596.81,612.55 1598.29,611.56 1599.76,610.57 1601.24,609.60 1602.71,608.64 1604.19,607.68 1605.66,606.73 1607.14,605.80 1608.61,604.87 1610.09,603.96 1611.56,603.05 1613.04,602.15 1614.51,601.26 1615.99,600.39 1617.46,599.52 1618.94,598.66 1620.41,597.81 1621.89,596.98 1623.36,596.15 1624.83,595.33 1626.31,594.52 1627.78,593.72 1629.26,592.94 1630.73,592.16 1632.21,591.39 1633.68,590.63 1635.16,589.88 1636.63,589.14 1638.11,588.41 1639.58,587.69 1641.06,586.98 1642.53,586.28 1644.01,585.59 1645.48,584.91 1646.96,584.24 1648.43,583.58 1649.90,582.92 1651.38,582.28 1652.85,581.64 1654.33,581.02 1655.80,580.40 1657.28,579.79 1658.75,579.19 1660.23,578.61 1661.70,578.02 1663.18,577.45 1664.65,576.89 1666.13,576.33 1667.60,575.79 1669.08,575.25 1670.55,574.72 1672.03,574.20 1673.50,573.68 1674.97,573.18 1676.45,572.68 1677.92,572.19 1679.40,571.71 1680.87,571.23 1682.35,570.77 1683.82,570.31 1685.30,569.86 1686.77,569.41 1688.25,568.98 1689.72,568.55 1691.20,568.13 1692.67,567.71 1694.15,567.30 1695.62,566.90 1697.10,566.51 1698.57,566.12 1700.04,565.74 1701.52,565.36 1702.99,564.99 1704.47,564.63 1705.94,564.27 1707.42,563.92 1708.89,563.58 1710.37,563.24 1711.84,562.91 1713.32,562.59 1714.79,562.26 1716.27,561.95 1717.74,561.64 1719.22,561.34 1720.69,561.04 1722.17,560.75 1723.64,560.46 1725.11,560.18 1726.59,559.90 1728.06,559.63 1729.54,559.36 1731.01,559.10 1732.49,558.84 1733.96,558.58 1735.44,558.34 1736.91,558.09 1738.39,557.85 1739.86,557.62 1741.34,557.39 1742.81,557.16 1744.29,556.94 1745.76,556.72" fill="none" stroke="#0000ff" stroke-width="4.3" stroke-linejoin="round" stroke-linecap="butt"/>
<g clip-path="url(#clipB)" stroke="#0000ff" stroke-width="1.8"><line x1="1379.22" y1="761.97" x2="1379.22" y2="725.13"/><line x1="1373.02" y1="761.97" x2="1385.42" y2="761.97"/><line x1="1373.02" y1="725.13" x2="1385.42" y2="725.13"/></g>
<g clip-path="url(#clipB)" stroke="#0000ff" stroke-width="1.8"><line x1="1452.73" y1="746.62" x2="1452.73" y2="703.79"/><line x1="1446.53" y1="746.62" x2="1458.93" y2="746.62"/><line x1="1446.53" y1="703.79" x2="1458.93" y2="703.79"/></g>
<g clip-path="url(#clipB)" stroke="#0000ff" stroke-width="1.8"><line x1="1526.25" y1="721.29" x2="1526.25" y2="683.84"/><line x1="1520.05" y1="721.29" x2="1532.45" y2="721.29"/><line x1="1520.05" y1="683.84" x2="1532.45" y2="683.84"/></g>
<g clip-path="url(#clipB)" stroke="#0000ff" stroke-width="1.8"><line x1="1599.76" y1="630.27" x2="1599.76" y2="522.82"/><line x1="1593.56" y1="630.27" x2="1605.96" y2="630.27"/><line x1="1593.56" y1="522.82" x2="1605.96" y2="522.82"/></g>
<g clip-path="url(#clipB)" stroke="#0000ff" stroke-width="1.8"><line x1="1673.28" y1="619.37" x2="1673.28" y2="560.42"/><line x1="1667.08" y1="619.37" x2="1679.48" y2="619.37"/><line x1="1667.08" y1="560.42" x2="1679.48" y2="560.42"/></g>
<ellipse cx="1379.22" cy="744.06" rx="10.1" ry="9.15" fill="#0000ff"/>
<ellipse cx="1452.73" cy="725.33" rx="10.1" ry="9.15" fill="#0000ff"/>
<ellipse cx="1526.25" cy="702.26" rx="10.1" ry="9.15" fill="#0000ff"/>
<ellipse cx="1599.76" cy="576.23" rx="10.1" ry="9.15" fill="#0000ff"/>
<ellipse cx="1673.28" cy="590.36" rx="10.1" ry="9.15" fill="#0000ff"/>
<line x1="1283.60" y1="488.00" x2="1283.60" y2="797.60" stroke="#000" stroke-width="2.8"/>
<line x1="1282.20" y1="796.20" x2="1767.10" y2="796.20" stroke="#000" stroke-width="2.8"/>
<line x1="1305.70" y1="796.20" x2="1305.70" y2="800.60" stroke="#000" stroke-width="1.2"/>
<text x="1304.60" y="821.70" class="tk" text-anchor="middle">−8</text>
<line x1="1452.73" y1="796.20" x2="1452.73" y2="800.60" stroke="#000" stroke-width="1.2"/>
<text x="1451.63" y="821.70" class="tk" text-anchor="middle">−7</text>
<line x1="1599.76" y1="796.20" x2="1599.76" y2="800.60" stroke="#000" stroke-width="1.2"/>
<text x="1598.66" y="821.70" class="tk" text-anchor="middle">−6</text>
<line x1="1746.79" y1="796.20" x2="1746.79" y2="800.60" stroke="#000" stroke-width="1.2"/>
<text x="1745.69" y="821.70" class="tk" text-anchor="middle">−5</text>
<line x1="1279.20" y1="796.20" x2="1283.60" y2="796.20" stroke="#000" stroke-width="1.2"/>
<text x="1274.30" y="805.00" class="tk" text-anchor="end">1</text>
<line x1="1279.20" y1="642.70" x2="1283.60" y2="642.70" stroke="#000" stroke-width="1.2"/>
<text x="1274.30" y="651.50" class="tk" text-anchor="end">2</text>
<line x1="1279.20" y1="489.20" x2="1283.60" y2="489.20" stroke="#000" stroke-width="1.2"/>
<text x="1274.30" y="498.00" class="tk" text-anchor="end">3</text>
<line x1="1298.00" y1="511.00" x2="1339.40" y2="511.00" stroke="#0000ff" stroke-width="4.2"/>
<ellipse cx="1318.50" cy="536.50" rx="10.1" ry="9.15" fill="#0000ff"/>
<text x="1351.30" y="517.00" class="lg">Simulated</text>
<text x="1351.30" y="542.30" class="lg">Experimental</text>
<text x="1524.35" y="847.00" class="xl" text-anchor="middle">log[HW] (M)</text>
<text transform="translate(1247.00,643.10) rotate(-90)" class="yl" text-anchor="middle">Normalized <tspan font-style="italic">I</tspan><tspan font-size="16" dy="3.3">Kr</tspan></text>
</svg>
</body></html>
